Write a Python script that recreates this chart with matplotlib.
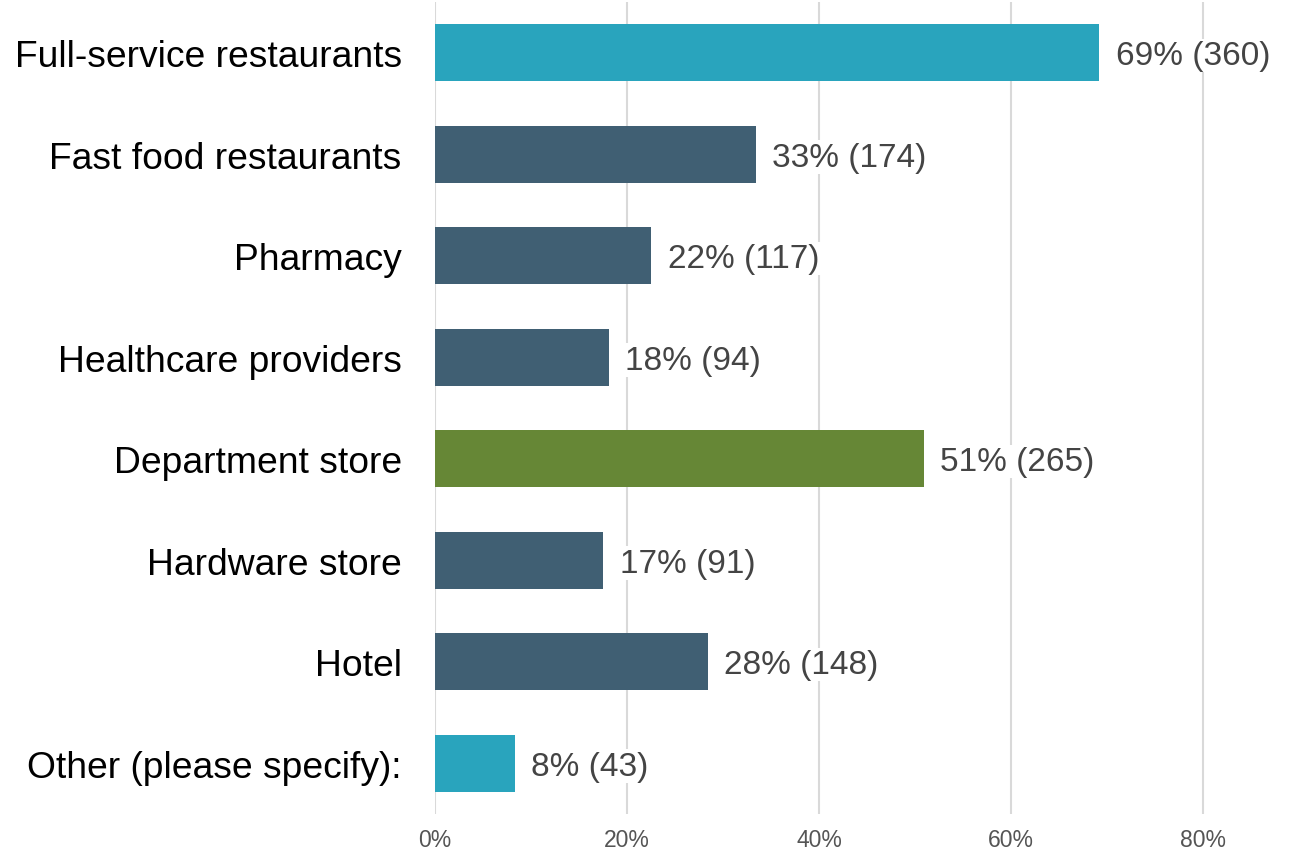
import matplotlib.pyplot as plt
from matplotlib.ticker import PercentFormatter

categories = ['Full-service restaurants', 'Fast food restaurants', 'Pharmacy',
              'Healthcare providers', 'Department store', 'Hardware store',
              'Hotel', 'Other (please specify):']
shares = [69.2, 33.4, 22.5, 18.1, 50.9, 17.5, 28.4, 8.3]
counts = [360, 174, 117, 94, 265, 91, 148, 43]
pct_labels = ['69%', '33%', '22%', '18%', '51%', '17%', '28%', '8%']
colors = ['#29a4bd', '#405f73', '#405f73', '#405f73', '#668736', '#405f73', '#405f73', '#29a4bd']
ticks = [0, 20, 40, 60, 80]

plt.rcParams['font.family'] = ['Liberation Sans', 'DejaVu Sans']

fig = plt.figure(figsize=(12.94, 8.54), dpi=100)
ax = fig.add_axes([435/1294, 39/854, 845/1294, 812/854])

ypos = list(range(len(categories)))
ax.barh(ypos, shares, height=0.56, color=colors, zorder=2)

for y, v, p, c in zip(ypos, shares, pct_labels, counts):
    ax.annotate('%s (%d)' % (p, c), (v, y), xytext=(12, -2), textcoords='offset points',
                ha='left', va='center', fontsize=24, color='#444444', zorder=3,
                bbox=dict(facecolor='white', edgecolor='none', pad=1))

ax.set_yticks(ypos)
ax.set_yticklabels(categories, fontsize=26.8, color='black')
ax.set_ylim(len(categories) - 0.5, -0.5)
ax.set_xlim(0, 88)
ax.set_xticks(ticks)
ax.xaxis.set_major_formatter(PercentFormatter(decimals=0))
ax.tick_params(axis='x', length=0, pad=10, labelsize=16.5, labelcolor='#555555')
ax.tick_params(axis='y', length=0, pad=24)
ax.grid(axis='x', color='#d9d9d9', linewidth=1.5, zorder=0)
ax.set_axisbelow(True)
for s in ax.spines.values():
    s.set_visible(False)

plt.savefig('out.png', dpi=100)
